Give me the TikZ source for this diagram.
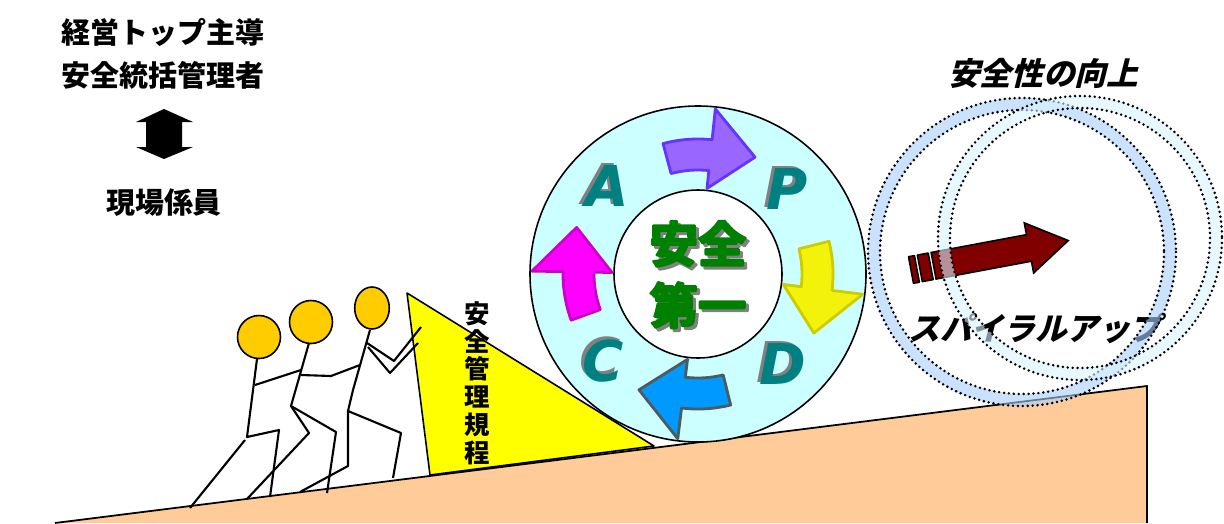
\documentclass[tikz,border=0pt]{standalone}
\usepackage{fontspec}
\newfontfamily\jpfont{Noto Sans CJK JP}
\newfontfamily\jpheavy{Noto Sans CJK JP Bold}[FakeBold=5]
\newfontfamily\jpslant{Noto Sans CJK JP}[FakeSlant=0.25]
\newfontfamily\pdcafont{DejaVu Sans}
\definecolor{slopeColor}{HTML}{FFCC99}
\definecolor{ruleColor}{HTML}{FFFF00}
\definecolor{headColor}{HTML}{FFCC00}
\definecolor{wheelColor}{HTML}{CCFFFF}
\definecolor{letterColor}{HTML}{008080}
\definecolor{mottoColor}{HTML}{008000}
\definecolor{upColor}{HTML}{800000}
\definecolor{ringA}{HTML}{A8CFFF}
\definecolor{ringB}{HTML}{D9F3FF}
\definecolor{planFill}{HTML}{9966FF}
\definecolor{planLine}{HTML}{6633FF}
\definecolor{doFill}{HTML}{F2F20A}
\definecolor{doLine}{HTML}{CCCC00}
\definecolor{checkFill}{HTML}{0099FF}
\definecolor{checkLine}{HTML}{4D5B5E}
\definecolor{actFill}{HTML}{FF00FF}
\definecolor{actLine}{HTML}{CC00CC}
\tikzset{
	jp/.style={font=\jpfont\bfseries\fontsize{16.5}{20}\selectfont, inner sep=0},
	jpit/.style={font=\jpslant\bfseries\fontsize{18}{22}\selectfont, inner sep=0},
	stick/.style={line width=1.2pt, line join=round},
	head/.style={draw, line width=0.9pt, fill=headColor},
	pdca/.style={font=\pdcafont\bfseries\itshape\fontsize{32}{32}\selectfont, text=letterColor, inner sep=0},
	motto/.style={font=\jpheavy\fontsize{27.5}{35}\selectfont, text=mottoColor, align=center, inner sep=0},
	ring/.style={line width=2.4mm, draw=#1, draw opacity=0.6},
	ringdots/.style={line width=1.6pt, line cap=round, dash pattern=on 0pt off 2.8pt},
}
% one bent arrow of the cycle: #1 tail angle, #2 fill, #3 border
\newcommand{\cyc}[3]{%
	\filldraw[fill=#2, draw=#3, line width=1.6pt]
	(#1:104) arc[start angle=#1, end angle=#1-21, radius=104]
	-- (#1-21:86) -- (#1-41:130) -- (#1-21:166) -- (#1-21:135)
	arc[start angle=#1-21, end angle=#1, radius=135] -- cycle;}
% letters with a grey shadow up left
\newcommand{\pdcaglyph}[1]{\rlap{\hspace{-1.7pt}\raisebox{1.7pt}{\textcolor{gray}{#1}}}#1}
% grey shadow down right
\newcommand{\mottoline}[1]{\rlap{\hspace{1.7pt}\raisebox{-1.7pt}{\textcolor{gray}{#1}}}#1}

\begin{document}
\begin{tikzpicture}[x=0.2mm, y=-0.2mm, line join=round]
	\useasboundingbox (0,0) rectangle (1224,523);

	% ground
	\fill[slopeColor] (55,523) -- (1147,386) -- (1147,523) -- cycle;
	\draw[line width=1pt] (55,523) -- (1147,386) -- (1147,523);

	% wedge
	\filldraw[fill=ruleColor, line width=0.9pt] (407,293) -- (430,475) -- (654,446) -- cycle;

	% three pushers
	\filldraw[head] (259,337) circle[radius=21.5];
	\draw[stick] (257,359) -- (247,437) -- (279,430) -- (270,497);
	\draw[stick] (245,440) -- (190,508);
	\draw[stick] (255,385) -- (301,370);

	\filldraw[head] (311,322) circle[radius=21.5];
	\draw[stick] (309,343) -- (291,406) -- (309,433) -- (247,499);
	\draw[stick] (291,406) -- (336,432) -- (327,493);
	\draw[stick] (301,375) -- (331,376) -- (360,365);

	\filldraw[head] (372,308) ellipse[x radius=17.3, y radius=21];
	\draw[stick] (370,330) -- (353,390) -- (348,411) -- (401,433) -- (393,478);
	\draw[stick] (348,411) -- (348,466) -- (300,492);
	\draw[stick] (367,343) -- (394,361) -- (421,327);
	\draw[stick] (368,347) -- (390,373) -- (418,343);

	\node[font=\jpfont\bfseries\fontsize{14.5}{15.8}\selectfont, align=center, inner sep=0]
		(rule) at (477,383) {安\\全\\管\\理\\規\\程};

	% the wheel
	\begin{scope}[shift={(698,274)}, yscale=-1]
		\filldraw[fill=wheelColor, line width=0.9pt] (0,0) circle[radius=168];
		\filldraw[fill=white, line width=0.9pt] (0,0) circle[radius=84];
		\cyc{105}{planFill}{planLine}
		\cyc{14}{doFill}{doLine}
		\cyc{-76}{checkFill}{checkLine}
		\cyc{200}{actFill}{actLine}
	\end{scope}

	\node[pdca] (lA) at (607,185) {\pdcaglyph{A}};
	\node[pdca] (lP) at (787,188) {\pdcaglyph{P}};
	\node[pdca] (lC) at (603,360) {\pdcaglyph{C}};
	\node[pdca] (lD) at (783,363) {\pdcaglyph{D}};

	\node[motto] (motto) at (698,276) {\mottoline{安全}\\\mottoline{第一}};

	% arrow going up
	\begin{scope}[shift={(911,270)}, rotate=10.6]
		\filldraw[fill=upColor, line width=0.9pt] (0,-13.5) rectangle (6,13.5);
		\filldraw[fill=upColor, line width=0.9pt] (9,-13.5) rectangle (20,13.5);
		\filldraw[fill=upColor, line width=0.9pt, line join=miter]
			(23,-13.5) -- (120,-13.5) -- (120,-25.5) -- (160,0) -- (120,25.5) -- (120,13.5) -- (23,13.5) -- cycle;
	\end{scope}

	\node[jpit] (spiral) at (1035,328) {スパイラルアップ};

	% spiral rings
	\draw[ring=ringA] (1022,252) circle[radius=148];
	\draw[ringdots] (1022,252) circle[radius=154];
	\draw[ringdots] (1022,252) circle[radius=142];
	\draw[ring=ringB] (1080,238) circle[radius=136];
	\draw[ringdots] (1080,238) circle[radius=142];
	\draw[ringdots] (1080,238) circle[radius=130];

	\node[jpit] (goal) at (1043,73) {安全性の向上};

	% who leads
	\node[jp] (top1) at (163,32) {経営トップ主導};
	\node[jp] (top2) at (163,75) {安全統括管理者};
	\node[jp] (staff) at (164,203) {現場係員};
	\fill (164,109) -- (193,122) -- (182,122) -- (182,147) -- (193,147) -- (164,159)
		-- (136,147) -- (146,147) -- (146,122) -- (136,122) -- cycle;
\end{tikzpicture}
\end{document}
